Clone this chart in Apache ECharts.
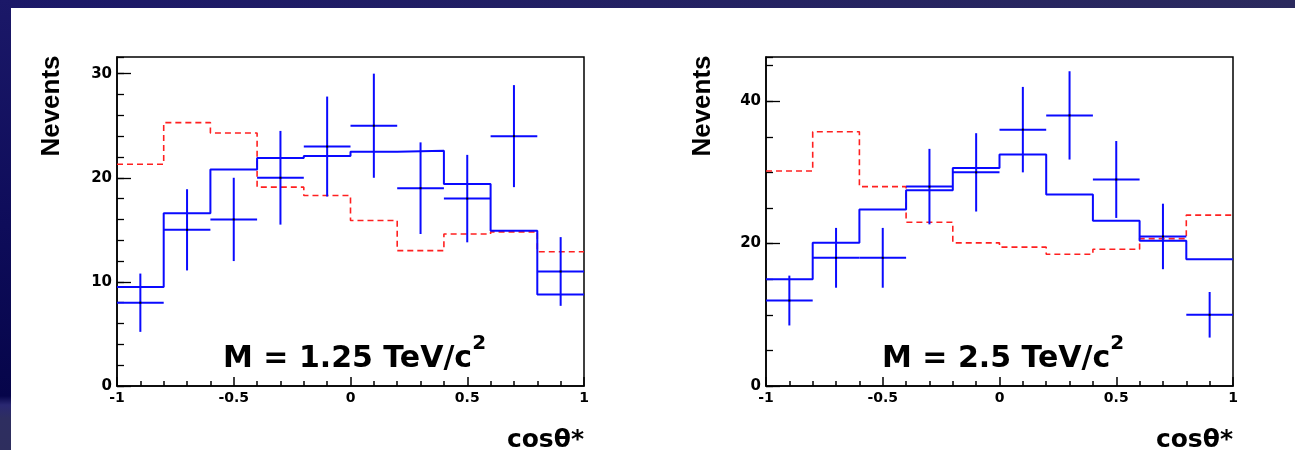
<!DOCTYPE html>
<html>
<head>
<meta charset="utf-8">
<script src="https://cdn.jsdelivr.net/npm/echarts@6/dist/echarts.min.js"></script>
<style>
  html, body { margin: 0; padding: 0; background: #ffffff; }
  #chart { width: 1295px; height: 450px; }
</style>
</head>
<body>
<div id="chart"></div>
<script>
// ---------------- data ----------------
const binCenters = [-0.9, -0.7, -0.5, -0.3, -0.1, 0.1, 0.3, 0.5, 0.7, 0.9];
const binWidth = 0.2;

// M = 1.25 TeV/c^2
const leftBackground = [21.3, 25.3, 24.3, 19.1, 18.3, 15.9, 13.0, 14.6, 14.8, 12.9];
const leftSignal     = [9.5, 16.6, 20.8, 21.9, 22.1, 22.5, 22.6, 19.4, 14.9, 8.8];
const leftData       = [8, 15, 16, 20, 23, 25, 19, 18, 24, 11];
const leftErr        = [2.8, 3.9, 4.0, 4.5, 4.8, 5.0, 4.4, 4.2, 4.9, 3.3];

// M = 2.5 TeV/c^2
const rightBackground = [30.2, 35.7, 28.0, 23.0, 20.1, 19.5, 18.5, 19.2, 20.7, 24.0];
const rightSignal     = [15.0, 20.1, 24.8, 27.5, 30.6, 32.5, 26.9, 23.2, 20.4, 17.8];
const rightData       = [12, 18, 18, 28, 30, 36, 38, 29, 21, 10];
const rightErr        = [3.5, 4.2, 4.2, 5.3, 5.5, 6.0, 6.2, 5.4, 4.6, 3.2];

const xRange = [-1, 1];
const xMajorStep = 0.5, xMinorSplit = 5;
const leftYMax = 31.6, leftYMajor = 10, leftYMinor = 2;
const rightYMax = 46.2, rightYMajor = 20, rightYMinor = 5;

const leftTitle = 'M = 1.25 TeV/c';
const rightTitle = 'M = 2.5 TeV/c';
const titleSup = '2';
const yTitle = 'Nevents';
const xTitle = 'cos\u03b8*';

// ---------------- helpers ----------------
function histPoints(values) {
  const pts = values.map((v, i) => [binCenters[i] - binWidth / 2, v]);
  pts.push([binCenters[values.length - 1] + binWidth / 2, values[values.length - 1]]);
  return pts;
}
function crossData(vals, errs) {
  return vals.map((v, i) => [binCenters[i], v, errs[i]]);
}
function renderCross(params, api) {
  const x = api.value(0), y = api.value(1), e = api.value(2);
  const l = api.coord([x - binWidth / 2, y]);
  const r = api.coord([x + binWidth / 2, y]);
  const t = api.coord([x, y + e]);
  const b = api.coord([x, y - e]);
  const c = api.coord([x, y]);
  const st = { stroke: '#0a0aff', lineWidth: 2 };
  return {
    type: 'group',
    children: [
      { type: 'line', shape: { x1: l[0], y1: l[1], x2: r[0], y2: r[1] }, style: st },
      { type: 'line', shape: { x1: t[0], y1: t[1], x2: b[0], y2: b[1] }, style: st },
      { type: 'rect', shape: { x: c[0] - 1, y: c[1] - 1, width: 2, height: 2 }, style: { fill: '#000' } }
    ]
  };
}

const labelFont = { color: '#000', fontFamily: 'DejaVu Sans', fontWeight: 'bold' };

// x axis: ticks drawn by the axis itself (same settings that rendered in the single-y test)
function makeX(gridIndex) {
  return {
    type: 'value', gridIndex, min: xRange[0], max: xRange[1], interval: xMajorStep,
    axisLine: { show: true, onZero: false, lineStyle: { color: '#000', width: 1.5 } },
    axisTick: { show: true, inside: true, length: 9, lineStyle: { color: '#000', width: 1.5 } },
    minorTick: { show: true, splitNumber: xMinorSplit, length: 5, lineStyle: { color: '#000', width: 1.5 } },
    splitLine: { show: false }, minorSplitLine: { show: false },
    axisLabel: Object.assign({ fontSize: 14, margin: 5, showMinLabel: true, showMaxLabel: true }, labelFont)
  };
}
function makeYMajor(gridIndex, max, step) {
  return {
    type: 'value', gridIndex, min: 0, max, interval: step,
    axisLine: { show: true, onZero: false, lineStyle: { color: '#000', width: 1.5 } },
    axisTick: { show: true, inside: true, length: 14, lineStyle: { color: '#000', width: 1.3 } },
    splitLine: { show: false },
    axisLabel: Object.assign({ fontSize: 15, margin: 5, showMaxLabel: false }, labelFont)
  };
}
// minor y ticks: a second y axis placed on the left, drawing only short ticks
function makeYMinor(gridIndex, max, step) {
  return {
    type: 'value', gridIndex, min: 0, max, interval: step, position: 'left', offset: 0,
    axisLine: { show: false, onZero: false },
    axisTick: { show: true, inside: true, length: 7, lineStyle: { color: '#000', width: 1.3 } },
    splitLine: { show: false },
    axisLabel: { show: false }
  };
}
function histSeries(xi, yi, values, color, dashed) {
  return {
    type: 'line', xAxisIndex: xi, yAxisIndex: yi, step: 'end',
    data: histPoints(values), showSymbol: false, symbol: 'none', silent: true,
    lineStyle: { color, width: dashed ? 1.6 : 2, type: dashed ? [6, 4] : 'solid' },
    animation: false, z: dashed ? 2 : 3
  };
}
function crossSeries(xi, yi, vals, errs) {
  return {
    type: 'custom', xAxisIndex: xi, yAxisIndex: yi, renderItem: renderCross,
    data: crossData(vals, errs), encode: { x: 0, y: 1 }, animation: false, z: 4
  };
}
function titleText(x, main) {
  return {
    type: 'text', x, y: 354, z: 10,
    style: {
      text: '{m|' + main + '}{s|' + titleSup + '}',
      align: 'left', verticalAlign: 'middle',
      rich: {
        m: { fontFamily: 'DejaVu Sans', fontWeight: 'bold', fontSize: 30, lineHeight: 40, verticalAlign: 'bottom', fill: '#000' },
        s: { fontFamily: 'DejaVu Sans', fontWeight: 'bold', fontSize: 20, lineHeight: 20, verticalAlign: 'top', fill: '#000' }
      }
    }
  };
}
function yTitleText(x) {
  return {
    type: 'text', x, y: 106, rotation: Math.PI / 2, z: 10,
    style: { text: yTitle, fontFamily: 'Liberation Sans', fontWeight: 'bold', fontSize: 26, fill: '#000', align: 'center', verticalAlign: 'middle' }
  };
}
function xTitleText(x) {
  return {
    type: 'text', x, y: 440, z: 10,
    style: { text: xTitle, fontFamily: 'DejaVu Sans', fontWeight: 'bold', fontSize: 25, fill: '#000', align: 'right', verticalAlign: 'middle' }
  };
}

const chart = echarts.init(document.getElementById('chart'), null, { renderer: 'canvas' });
// xAxis order: 0 = left panel, 1 = right panel
// yAxis order: 0 = left major, 1 = right major, 2 = left minor, 3 = right minor
chart.setOption({
  animation: false,
  backgroundColor: '#ffffff',
  grid: [
    { left: 117, top: 57, width: 467, height: 329, show: true, borderColor: '#000', borderWidth: 1.5, containLabel: false },
    { left: 766, top: 57, width: 467, height: 329, show: true, borderColor: '#000', borderWidth: 1.5, containLabel: false }
  ],
  xAxis: [makeX(0), makeX(1)],
  yAxis: [
    makeYMajor(0, leftYMax, leftYMajor), makeYMajor(1, rightYMax, rightYMajor),
    makeYMinor(0, leftYMax, leftYMinor), makeYMinor(1, rightYMax, rightYMinor)
  ],
  series: [
    histSeries(0, 0, leftBackground, '#ff2020', true),
    histSeries(0, 0, leftSignal, '#0a0aff', false),
    crossSeries(0, 0, leftData, leftErr),
    histSeries(1, 1, rightBackground, '#ff2020', true),
    histSeries(1, 1, rightSignal, '#0a0aff', false),
    crossSeries(1, 1, rightData, rightErr)
  ],
  graphic: [
    { type: 'rect', shape: { x: 0, y: 0, width: 1295, height: 8 }, z: 0,
      style: { fill: new echarts.graphic.LinearGradient(0, 0, 1, 0, [{ offset: 0, color: '#1b1868' }, { offset: 1, color: '#2b2a5e' }]) } },
    { type: 'rect', shape: { x: 0, y: 0, width: 11, height: 450 }, z: 0,
      style: { fill: new echarts.graphic.LinearGradient(0, 0, 0, 1, [
        { offset: 0, color: '#1b1868' }, { offset: 0.5, color: '#0e0c5a' }, { offset: 0.88, color: '#06054a' },
        { offset: 0.9, color: '#2a2872' }, { offset: 0.93, color: '#2e2e60' }, { offset: 1, color: '#2e2e5e' }]) } },
    titleText(223, leftTitle),
    titleText(882, rightTitle),
    yTitleText(52),
    yTitleText(703),
    xTitleText(584),
    xTitleText(1233)
  ]
});
</script>
</body>
</html>
